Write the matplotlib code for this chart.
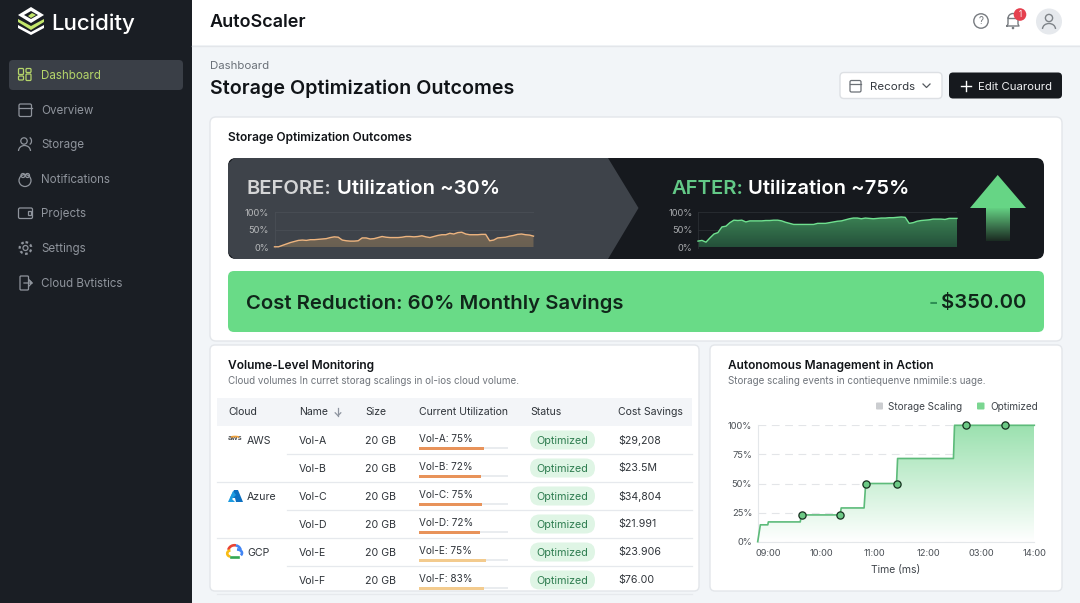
import numpy as np
import matplotlib
matplotlib.use("Agg")
import matplotlib.pyplot as plt
from matplotlib.patches import FancyBboxPatch, Polygon, Circle, Rectangle, Arc, Wedge
from matplotlib.colors import to_rgb

plt.rcParams['font.family'] = ['Inter', 'DejaVu Sans']

# ---------- data ----------
nav_items = ["Dashboard", "Overview", "Storage", "Notifications", "Projects", "Settings", "Cloud Bvtistics"]
before_util = [2,2,6,10,14,17,20,21,20,22,22,23,24,25,28,30,29,21,19,18,18,19,27,27,24,25,28,31,29,28,28,28,29,31,31,30,31,33,30,28,31,34,36,36,40,38,42,43,38,36,36,36,37,37,19,21,27,28,29,32,34,37,38,36,35,32]
after_util = [18,20,15,27,38,42,58,60,70,77,76,77,72,75,75,75,75,76,76,77,77,75,71,68,65,65,65,65,65,65,68,68,68,70,72,74,75,78,81,83,83,81,83,82,81,82,83,83,84,84,85,86,85,68,70,74,76,77,78,80,80,80,79,82,82,82]
mini_ticks = [0, 50, 100]
mini_ticklabels = ["0%", "50%", "100%"]

clouds = ["AWS", "", "Azure", "", "GCP", ""]
names = ["Vol-A", "Vol-B", "Vol-C", "Vol-D", "Vol-E", "Vol-F"]
sizes = ["20 GB"] * 6
util_labels = ["Vol-A: 75%", "Vol-B: 72%", "Vol-C: 75%", "Vol-D: 72%", "Vol-E: 75%", "Vol-F: 83%"]
util_bars = [73, 70, 71, 68, 75, 73]
bar_colors = ["#E8935A", "#E8935A", "#E8935A", "#E8935A", "#F3CB8E", "#F3CB8E"]
statuses = ["Optimized"] * 6
savings = ["$29,208", "$23.5M", "$34,804", "$21.991", "$23.906", "$76.00"]
headers = ["Cloud", "Name", "Size", "Current Utilization", "Status", "Cost Savings"]

time_labels = ["09:00", "10:00", "11:00", "12:00", "03:00", "14:00"]
time_ticks = [0, 1, 2, 3, 4, 5]
step_x = [-0.2, -0.15, -0.01, 0.0, 0.6, 0.62, 1.35, 1.37, 1.8, 1.83, 2.41, 2.43, 3.48, 3.5, 5.0]
step_y = [0, 14.5, 14.5, 17, 17, 23, 23, 29, 29, 50, 50, 71.5, 71.5, 100, 100]
event_x = [0.64, 1.35, 1.83, 2.41, 3.72, 4.44]
event_y = [23, 23, 50, 50, 100, 100]
pct_ticks = [0, 25, 50, 75, 100]
pct_labels = ["0%", "25%", "50%", "75%", "100%"]

# ---------- canvas ----------
W, H = 1080, 603
fig = plt.figure(figsize=(W / 100, H / 100), dpi=100, facecolor="#F2F5F8")
bg = fig.add_axes([0, 0, 1, 1])
bg.set_xlim(0, W); bg.set_ylim(H, 0); bg.axis("off")


def T(x, y, s, px=12, c="#111418", w="normal", ha="left", ax=bg, z=6):
    return ax.text(x, y + 1, s, fontsize=px * 0.72, color=c, fontweight=w, ha=ha, va="center", zorder=z)


def box(x0, y0, x1, y1, fc, ec="none", r=0, lw=1, z=2):
    if r:
        p = FancyBboxPatch((x0, y0), x1 - x0, y1 - y0, boxstyle=f"round,pad=0,rounding_size={r}",
                           fc=fc, ec=ec, lw=lw, zorder=z)
    else:
        p = Rectangle((x0, y0), x1 - x0, y1 - y0, fc=fc, ec=ec, lw=lw, zorder=z)
    bg.add_patch(p)
    return p


def px_axes(x0, y0, x1, y1):
    a = fig.add_axes([x0 / W, 1 - y1 / H, (x1 - x0) / W, (y1 - y0) / H])
    a.patch.set_alpha(0)
    return a


def gradient(ax, extent, top, bottom, top_a, bot_a, clip, z=1, n=128):
    xl, yl = ax.get_xlim(), ax.get_ylim()
    img = np.zeros((n, 2, 4))
    t, b = np.array(to_rgb(top)), np.array(to_rgb(bottom))
    for i in range(n):
        f = i / (n - 1)
        img[i, :, :3] = t * (1 - f) + b * f
        img[i, :, 3] = top_a * (1 - f) + bot_a * f
    im = ax.imshow(img, extent=extent, aspect="auto", origin="upper", zorder=z, interpolation="bilinear")
    clip.set_visible(True)
    clip.set_facecolor("none"); clip.set_edgecolor("none")
    ax.add_patch(clip)
    im.set_clip_path(clip)
    ax.set_xlim(xl); ax.set_ylim(yl)


# ---------- sidebar ----------
box(0, 0, 192, H, "#1A1E24", z=1)
box(9, 60, 183, 90, "#3A3F47", r=4)
lime, white = "#C3E66B", "#FFFFFF"
bg.add_patch(Polygon([(31, 7), (44, 15), (31, 23), (18, 15)], closed=True, fc=white, zorder=4))
bg.add_patch(Polygon([(31, 11), (38, 15), (31, 19), (24, 15)], closed=True, fc="#1A1E24", zorder=5))
bg.add_patch(Polygon([(32, 13), (36, 15), (31, 18), (28, 16)], closed=True, fc=lime, zorder=6))
bg.add_patch(Polygon([(18, 19), (31, 26), (44, 19), (44, 22), (31, 30), (18, 22)], closed=True, fc=lime, zorder=4))
bg.add_patch(Polygon([(18, 25), (31, 32), (44, 25), (44, 28), (31, 35), (18, 28)], closed=True, fc=white, zorder=4))
T(51, 23, "Lucidity", 22.3, "#FFFFFF", "medium")

nav_y = [75, 110, 144, 179, 213, 248, 283]
for i, (label, y) in enumerate(zip(nav_items, nav_y)):
    col = "#B5D56A" if i == 0 else "#8F949C"
    T(41, y, label, 11.6, col)
    kw = dict(fc="none", ec=col, lw=0.9, zorder=5)
    if i == 0:
        for dx, dy, w_, h_ in [(-6.5, -6.5, 5, 6), (1, -6.5, 5, 4), (-6.5, 1, 5, 4), (1, -1, 5, 6.5)]:
            bg.add_patch(FancyBboxPatch((25 + dx, y + dy), w_, h_, boxstyle="round,pad=0,rounding_size=1", **kw))
    elif i == 1:
        bg.add_patch(FancyBboxPatch((19, y - 6), 12.5, 12.5, boxstyle="round,pad=0,rounding_size=1.5", **kw))
        bg.plot([19, 31.5], [y - 2.5, y - 2.5], color=col, lw=0.9, zorder=5)
    elif i == 2:
        bg.add_patch(Circle((24, y - 3), 3.2, **kw))
        bg.add_patch(Arc((24.5, y + 7), 12, 11, theta1=180, theta2=360, ec=col, lw=0.9, zorder=5))
        bg.add_patch(Arc((29, y - 3), 5, 7, theta1=-80, theta2=80, ec=col, lw=0.9, zorder=5))
    elif i == 3:
        bg.add_patch(Circle((25, y + 1.5), 6, **kw))
        bg.add_patch(Circle((23, y - 3.5), 2, **kw))
        bg.add_patch(Circle((27.5, y - 3.5), 2, **kw))
    elif i == 4:
        bg.add_patch(FancyBboxPatch((18.5, y - 5), 14, 10.5, boxstyle="round,pad=0,rounding_size=1.5", **kw))
        bg.add_patch(Rectangle((28, y - 2.5), 3, 4, **kw))
    elif i == 5:
        bg.add_patch(Circle((25.5, y), 2.5, **kw))
        bg.add_patch(Circle((25.5, y), 5.8, fc="none", ec=col, lw=1.6, ls=(0, (1.2, 1.2)), zorder=5))
    else:
        bg.add_patch(FancyBboxPatch((20, y - 7), 8.5, 14, boxstyle="round,pad=0,rounding_size=1", **kw))
        bg.plot([24, 32, 29, 32, 29], [y, y, y - 3, y, y + 3], color=col, lw=0.9, zorder=5)

# ---------- top bar ----------
box(192, 0, W, 45, "#FFFFFF", z=1)
bg.plot([192, W], [45.5, 45.5], color="#E3E6EA", lw=1, zorder=2)
T(210, 21.5, "AutoScaler", 18, "#111418", "semibold")
bg.add_patch(Circle((981, 21), 7.2, fc="none", ec="#777B80", lw=1.0, zorder=5))
T(981, 20, "?", 10, "#777B80", ha="center")
bg.plot([1007, 1008, 1008, 1018, 1018, 1019, 1007], [26, 24, 18, 18, 24, 26, 26], color="#777B80", lw=1.0, zorder=5)
bg.add_patch(Wedge((1013, 18.5), 5, 180, 360, fc="#FFFFFF", ec="#777B80", lw=1.0, zorder=5))
bg.add_patch(Circle((1013, 28), 1.3, fc="#777B80", zorder=5))
bg.add_patch(Circle((1020, 14.5), 6.3, fc="#E5404F", zorder=6))
T(1020, 13.5, "1", 8, "#FFFFFF", ha="center", z=7)
bg.add_patch(Circle((1049, 21.5), 13, fc="#E6E9ED", zorder=4))
bg.add_patch(Circle((1049, 18), 3.6, fc="none", ec="#7E8388", lw=1.0, zorder=5))
bg.add_patch(Arc((1049, 29), 13, 11, theta1=180, theta2=360, ec="#7E8388", lw=1.0, zorder=5))

T(210, 65, "Dashboard", 11.5, "#6A7078")
T(210, 87.5, "Storage Optimization Outcomes", 19.7, "#111418", "semibold")

box(840, 72.5, 942, 98.5, "#FFFFFF", ec="#DDE0E4", r=4)
box(850, 80.5, 861, 92, "none", ec="#6B7076", r=1.5, z=4, lw=0.9)
bg.plot([850, 861], [84, 84], color="#6B7076", lw=.9, zorder=4)
T(870, 85.5, "Records", 11.5, "#33383E")
bg.plot([923, 926.5, 930], [84, 87.5, 84], color="#55595F", lw=.9, zorder=4)
box(949, 72.5, 1062, 98.5, "#16191E", r=4)
bg.plot([960.5, 970.5], [85.5, 85.5], color="#FFFFFF", lw=1.0, zorder=5)
bg.plot([965.5, 965.5], [80.5, 90.5], color="#FFFFFF", lw=1.0, zorder=5)
T(978, 85.5, "Edit Cuarourd", 11.4, "#F0F1F3")

# ---------- outcomes card ----------
box(210, 117, 1062, 341, "#FFFFFF", ec="#E3E6EA", r=6)
T(228, 136.5, "Storage Optimization Outcomes", 12, "#111418", "semibold")
box(228, 158, 1044, 259, "#16191E", r=8, z=3)
bg.add_patch(Polygon([(234, 158), (608, 158), (638.5, 208), (608, 259), (234, 259), (228, 253), (228, 164)],
                     closed=True, fc="#3E434A", zorder=3))
T(246, 187.5, "BEFORE:", 20.2, "#D4D5D6", "semibold")
T(337, 187.5, "Utilization ~30%", 20.2, "#FFFFFF", "semibold")
T(671, 187.5, "AFTER:", 20.2, "#63C987", "semibold")
T(748, 187.5, "Utilization ~75%", 20.2, "#FFFFFF", "semibold")


def mini(x0, x1, vals, line, grid, fc_top, fc_bot, a_top, a_bot, label_c):
    a = px_axes(x0, 212, x1, 247.5)
    xs = np.arange(len(vals))
    a.set_xlim(0, len(vals) - 1); a.set_ylim(0, 100)
    a.set_yticks(mini_ticks, mini_ticklabels)
    a.set_xticks([])
    a.tick_params(axis="y", length=0, pad=4, labelsize=9.3 * 0.72, labelcolor=label_c)
    for s in a.spines.values():
        s.set_visible(False)
    a.spines["left"].set_visible(True); a.spines["left"].set_color(grid); a.spines["left"].set_linewidth(.6)
    a.grid(axis="y", color=grid, lw=.6)
    a.set_axisbelow(True)
    poly = Polygon(np.column_stack([np.r_[xs, xs[-1], 0], np.r_[vals, 0, 0]]), closed=True)
    gradient(a, (0, len(vals) - 1, 0, 100), fc_top, fc_bot, a_top, a_bot, poly)
    a.plot(xs, vals, color=line, lw=1.0, zorder=4, clip_on=False)
    return a


mini(274.5, 533.5, before_util, "#EDB47F", "#494E55", "#7C6B58", "#6A6052", 1, 1, "#B6B8BA")
mini(698, 957, after_util, "#6FE08F", "#2A2E33", "#3F8A58", "#24503A", 1, 1, "#A8AAAD")

# big arrow (page axes)
arrow_head = Polygon([(997.7, 175), (1026, 208), (970, 208)], closed=True, fc="#66D585", zorder=5)
bg.add_patch(arrow_head)
shaft = Polygon([(986, 207.5), (1010, 207.5), (1010, 241), (986, 241)], closed=True)
gradient(bg, (986, 1010, 241, 207.5), "#66D585", "#1B2A22", 1, 1, shaft, z=5)

# savings banner
box(228, 271, 1044, 332, "#69DB87", r=6, z=3)
T(246, 302.5, "Cost Reduction: 60% Monthly Savings", 20.3, "#10261A", "semibold")
T(1026, 302.5, "$350.00", 20.3, "#10261A", "semibold", ha="right")
T(929, 302.5, "-", 20.3, "#2F8F55", "semibold")

# ---------- table card ----------
box(210, 345, 699, 591, "#FFFFFF", ec="#E3E6EA", r=5)
T(228, 364.5, "Volume-Level Monitoring", 12, "#111418", "semibold")
T(228, 380.5, "Cloud volumes In curret storag scalings in ol-ios cloud volume.", 9.8, "#70757C")
box(217, 398, 692, 426, "#F3F5F8", z=3)
col_x = [228, 299, 365, 419, 530, 618]
for hx, h in zip(col_x, headers):
    T(hx, 411, h, 10.5, "#2F343A")
bg.plot([338, 338], [407.5, 415.5], color="#8E95A0", lw=.9, zorder=5)
bg.plot([335.2, 338, 340.8], [412.8, 415.7, 412.8], color="#8E95A0", lw=.9, zorder=5)

row_y = [440, 468, 496, 524, 552, 580]
for i, y in enumerate(row_y):
    line_y = y + 14
    x_start = 287 if i % 2 == 0 else 217
    bg.plot([x_start, 692], [line_y, line_y], color="#E6E9ED", lw=.9, zorder=3)
    if clouds[i]:
        T(247, y - 0.5, clouds[i], 10.6, "#2F343A")
    T(col_x[1], y - 0.5, names[i], 10.6, "#2F343A")
    T(col_x[2], y - 0.5, sizes[i], 10.6, "#2F343A")
    T(col_x[3], y - 2, util_labels[i], 10, "#2F343A")
    box(530, y - 9.5, 595, y + 9.5, "#DFF5E5", r=9.5)
    T(562.5, y - 0.5, statuses[i], 10.8, "#2E7D50", ha="center")
    T(col_x[5], y - 0.5, savings[i], 10.6, "#2F343A")

# utilisation bars through their own axes scale
ub = px_axes(419, 426, 508, 594)
ub.set_xlim(0, 100); ub.set_ylim(594, 426); ub.axis("off")
bar_pos = [y + 8 for y in row_y]
ub.barh(bar_pos, [100] * 6, height=2.4, color="#E9ECEF", zorder=1)
ub.barh(bar_pos, util_bars, height=3, color=bar_colors, zorder=2)

# cloud icons
T(235, 437, "aws", 7.5, "#3B3F44", "semibold", ha="center")
bg.add_patch(Arc((235, 440), 14, 7, theta1=35, theta2=145, ec="#F0A23C", lw=1.2, zorder=6, angle=180))
bg.add_patch(Polygon([(234, 490), (238, 490), (243, 502), (236, 502), (235, 498), (230, 498)], closed=True, fc="#0C6FC0", zorder=5))
bg.add_patch(Polygon([(233, 491), (228, 502), (235, 502), (232, 499), (236, 495)], closed=True, fc="#1D9BE0", zorder=6))
gx, gy = 234.5, 552
bg.add_patch(Arc((gx, gy - 1), 12.5, 11.5, theta1=190, theta2=285, ec="#E94335", lw=1.9, zorder=6))
bg.add_patch(Arc((gx, gy - 1), 12.5, 11.5, theta1=285, theta2=350, ec="#4285F4", lw=1.9, zorder=6))
bg.add_patch(Arc((gx + 2.5, gy + 1), 10, 7, theta1=-90, theta2=30, ec="#4285F4", lw=1.9, zorder=6))
bg.add_patch(Arc((gx - 4, gy + 1.5), 6.5, 6, theta1=90, theta2=270, ec="#F9BC15", lw=1.9, zorder=6))
bg.plot([gx - 4, gx + 3], [gy + 4.6, gy + 4.6], color="#34A853", lw=1.9, zorder=6)

# ---------- autonomous card ----------
box(710, 345, 1062, 591, "#FFFFFF", ec="#E3E6EA", r=5)
T(728, 364.5, "Autonomous Management in Action", 11.9, "#111418", "semibold")
T(728, 380.5, "Storage scaling events in contiequenve nmimile:s uage.", 9.8, "#70757C")
box(876, 402.5, 883, 409.5, "#CBCDD0", r=1, z=4)
T(888, 405.5, "Storage Scaling", 10, "#3F444A")
box(977, 402.5, 984.5, 409.5, "#7BD691", r=1, z=4)
T(990, 405.5, "Optimized", 10, "#3F444A")

a = px_axes(757.7, 425.3, 1034.3, 541.7)
a.set_xlim(-0.2, 5); a.set_ylim(0, 100)
a.set_xticks(time_ticks, time_labels)
a.set_yticks(pct_ticks, pct_labels)
a.tick_params(length=0, labelsize=9.3 * 0.72, labelcolor="#4C5157")
a.tick_params(axis="x", pad=5.2)
a.tick_params(axis="y", pad=4)
for name, s in a.spines.items():
    s.set_visible(name in ("left", "bottom"))
    s.set_color("#E4E7EA"); s.set_linewidth(.8)
a.grid(axis="y", color="#E3E5E8", lw=.8, ls=(0, (7, 5)))
a.set_axisbelow(True)
poly = Polygon(np.column_stack([np.r_[step_x, step_x[-1], step_x[0]], np.r_[step_y, 0, 0]]), closed=True)
gradient(a, (-0.2, 5, 0, 100), "#9BE1AF", "#FFFFFF", 1, 1, poly)
a.plot(step_x, step_y, color="#5DBB7A", lw=1.2, zorder=4, clip_on=False)
a.plot(event_x, event_y, ls="none", marker="o", ms=5.2, mfc="#6CC985", mec="#16301F", mew=0.9, zorder=5, clip_on=False)
a.set_xlabel("Time (ms)", fontsize=10.4 * 0.72, color="#3F444A", labelpad=5.4)

fig.savefig("out.png", dpi=100, facecolor=fig.get_facecolor())
